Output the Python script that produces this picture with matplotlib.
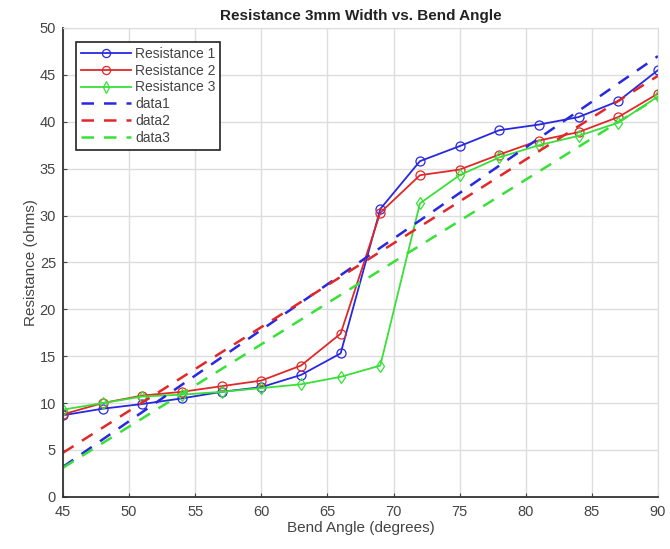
import numpy as np
import matplotlib
matplotlib.use("Agg")
import matplotlib.pyplot as plt

plt.rcParams["font.family"] = ["Liberation Sans", "DejaVu Sans"]

angle = [45, 48, 51, 54, 57, 60, 63, 66, 69, 72, 75, 78, 81, 84, 87, 90]
res1 = [8.7, 9.4, 9.9, 10.5, 11.2, 11.7, 13.0, 15.3, 30.7, 35.8, 37.4, 39.1, 39.7, 40.5, 42.2, 45.5]
res2 = [8.8, 10.0, 10.8, 11.2, 11.8, 12.4, 14.0, 17.4, 30.3, 34.3, 34.9, 36.5, 38.0, 38.9, 40.5, 43.0]
res3 = [9.3, 10.0, 10.7, 10.9, 11.2, 11.6, 12.0, 12.8, 14.0, 31.3, 34.3, 36.2, 37.5, 38.5, 39.9, 42.7]

# linear fit lines (basic fitting), endpoints
fit_x = [45, 90]
fit1 = [3.2, 47.0]
fit2 = [4.7, 44.9]
fit3 = [3.1, 42.6]

blue, red, green = "#2828e0", "#e02828", "#38e038"

fig = plt.figure(figsize=(6.7, 5.49), dpi=100)
ax = fig.add_axes([0.094, 0.095, 0.888, 0.854])

mk = dict(mfc="none", ms=6.5, mew=0.9, lw=1.3)
ax.plot(angle, res1, color=blue, marker="o", label="Resistance 1", **mk)
ax.plot(angle, res2, color=red, marker="o", label="Resistance 2", **mk)
ax.plot(angle, res3, color=green, marker="d", label="Resistance 3", **mk)
ax.plot(fit_x, fit1, color=blue, ls=(0, (5, 4)), lw=1.8, label="data1")
ax.plot(fit_x, fit2, color=red, ls=(0, (5, 4)), lw=1.8, label="data2")
ax.plot(fit_x, fit3, color=green, ls=(0, (5, 4)), lw=1.8, label="data3")

ax.set_xlim(45, 90)
ax.set_ylim(0, 50)
ax.set_xticks(np.arange(45, 91, 5))
ax.set_yticks(np.arange(0, 51, 5))
ax.grid(True, color="#dddddd", lw=1)
ax.set_axisbelow(True)
ax.tick_params(labelsize=10.5, colors="#444444", direction="in", length=3)
ax.tick_params(axis="x", pad=6)
ax.tick_params(axis="y", pad=5)
for s in ("top", "right"):
    ax.spines[s].set_color("#dddddd")
for s in ("left", "bottom"):
    ax.spines[s].set_color("#333333")
    ax.spines[s].set_linewidth(1.3)

ax.set_xlabel("Bend Angle (degrees)", fontsize=11, color="#444444", labelpad=1)
ax.set_ylabel("Resistance (ohms)", fontsize=11, color="#444444", labelpad=1)
ax.set_title("Resistance 3mm Width vs. Bend Angle", fontsize=11, fontweight="bold", pad=6,
             color="#222222")

leg = ax.legend(loc="upper left", bbox_to_anchor=(0.01, 0.985), fontsize=10, fancybox=False,
                framealpha=1, edgecolor="#222222", handlelength=3.6, borderpad=0.35,
                labelspacing=0.2, handletextpad=0.3, markerscale=0.9)
leg.get_frame().set_linewidth(1.2)
for t in leg.get_texts():
    t.set_color("#444444")

fig.savefig("out.png", dpi=100)
